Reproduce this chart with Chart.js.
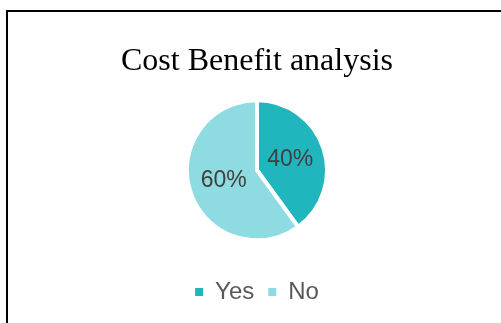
<!DOCTYPE html>
<html lang="en">
<head>
    <meta charset="UTF-8">
    <title>Cost Benefit analysis</title>
    <script src="https://cdn.jsdelivr.net/npm/chart.js"></script>
    <style>
        body {
            margin: 0;
            background: white;
        }
        .frame {
            position: absolute;
            left: 6px;
            top: 10px;
            width: 600px;
            height: 400px;
            border-top: 2px solid black;
            border-left: 2px solid black;
        }
        #chart {
            position: absolute;
            left: 0;
            top: 0;
        }
    </style>
</head>
<body>
    <div class="frame"></div>
    <canvas id="chart" width="501" height="323"></canvas>

    <script>
        const categories = ['Yes', 'No'];
        const shares = [40, 60];
        const sliceColors = ['#21B6BE', '#8EDCE2'];

        // percentage labels drawn in the middle of each slice
        const sliceLabels = {
            id: 'sliceLabels',
            afterDatasetsDraw(chart) {
                const ctx = chart.ctx;
                ctx.save();
                ctx.font = '23px "Liberation Sans", Arial, sans-serif';
                ctx.fillStyle = '#404040';
                ctx.textAlign = 'center';
                ctx.textBaseline = 'middle';
                chart.getDatasetMeta(0).data.forEach((arc, i) => {
                    const pos = arc.tooltipPosition();
                    ctx.fillText(shares[i] + '%', pos.x, pos.y);
                });
                ctx.restore();
            }
        };

        const ctx = document.getElementById('chart').getContext('2d');
        const chart = new Chart(ctx, {
            type: 'pie',
            data: {
                labels: categories,
                datasets: [{
                    data: shares,
                    backgroundColor: sliceColors,
                    borderColor: '#ffffff',
                    borderWidth: 4,
                    radius: 70
                }]
            },
            options: {
                responsive: false,
                animation: false,
                layout: {
                    padding: { left: 13, right: 0, top: 0, bottom: 9 }
                },
                plugins: {
                    title: {
                        display: true,
                        text: 'Cost Benefit analysis',
                        color: '#000000',
                        font: { family: '"Liberation Serif", "Times New Roman", serif', size: 32, weight: 'normal' },
                        padding: { top: 42, bottom: -6 }
                    },
                    legend: {
                        position: 'bottom',
                        labels: {
                            color: '#595959',
                            font: { family: '"Liberation Sans", Arial, sans-serif', size: 24 },
                            boxWidth: 8,
                            boxHeight: 8,
                            padding: 14,
                            // plain squares, without the white slice border
                            generateLabels(chart) {
                                const items = Chart.overrides.pie.plugins.legend.labels.generateLabels(chart);
                                items.forEach(item => { item.lineWidth = 0; });
                                return items;
                            }
                        }
                    },
                    tooltip: { enabled: false }
                }
            },
            plugins: [sliceLabels]
        });
    </script>
</body>
</html>
